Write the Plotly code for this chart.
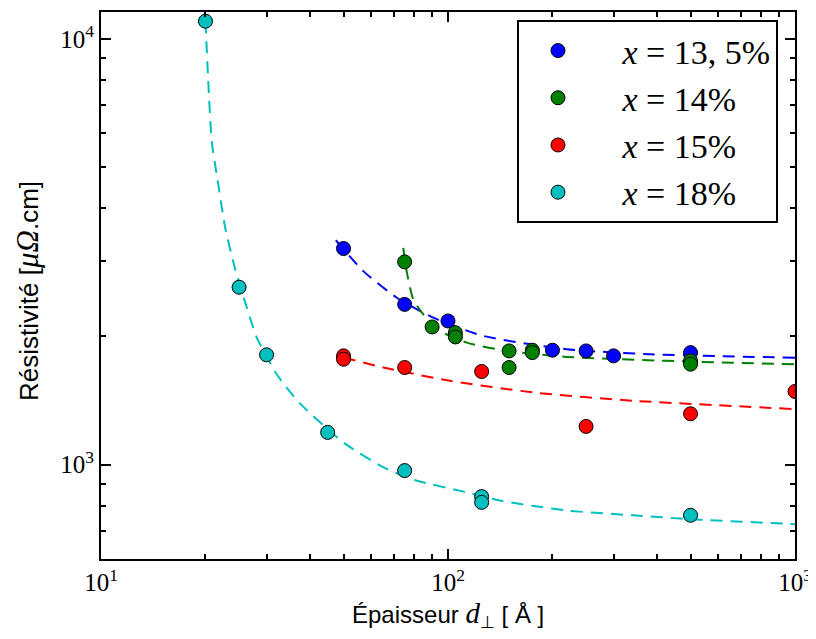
import plotly.graph_objects as go
import math

# ---------------- data ----------------
# measured points: thickness d (Å) and resistivity (µΩ.cm)
x18 = [20, 25, 30, 45, 75, 125, 125, 500]
y18 = [11000, 2610, 1810, 1190, 968, 841, 815, 760]

x135 = [50, 75, 100, 200, 250, 300, 500]
y135 = [3217, 2378, 2174, 1856, 1849, 1800, 1832]

x14 = [75, 90, 105, 105, 150, 150, 175, 175, 500, 500]
y14 = [2993, 2105, 2040, 1994, 1849, 1690, 1856, 1832, 1752, 1721]

x15 = [50, 50, 75, 125, 250, 500, 1000]
y15 = [1800, 1768, 1690, 1654, 1229, 1316, 1485]

# dashed fit curves
fx18 = [20.0, 20.4, 20.85, 21.55, 22.8, 24.3, 26.3, 28.1, 32.1, 37.5, 50.5, 65, 81, 113, 141, 220, 341, 532, 946, 1000]
fy18 = [11000, 7790, 5740, 4800, 3600, 2900, 2340, 1990, 1630, 1390, 1120, 986, 917, 861, 823, 780, 760, 742, 726, 724]

fx135 = [47.5, 57, 71.2, 90.7, 126.4, 219.8, 382, 1000]
fy135 = [3364, 2847, 2465, 2213, 2005, 1866, 1816, 1782]

fx14 = [74.3, 76, 79.4, 84.9, 94.8, 113.2, 147.7, 219.8, 426.8, 1000]
fy14 = [3228, 2847, 2444, 2253, 2060, 1934, 1849, 1790, 1752, 1720]

fx15 = [50, 65.1, 101.3, 176.1, 342, 1000]
fy15 = [1785, 1690, 1573, 1477, 1412, 1350]

labels = ["<i>x</i> = 13, 5%", "<i>x</i> = 14%", "<i>x</i> = 15%", "<i>x</i> = 18%"]
colors = ["#0000ff", "#008000", "#ff0000", "#00bfbf"]

xtickvals = [10, 100, 1000]
xticktext = ["10<sup>1</sup>", "10<sup>2</sup>", "10<sup>3</sup>"]
ytickvals = [1000, 10000]
yticktext = ["10<sup>3</sup>", "10<sup>4</sup>"]

# ---------------- figure ----------------
fig = go.Figure()

curves = [(fx135, fy135), (fx14, fy14), (fx15, fy15), (fx18, fy18)]
points = [(x135, y135), (x14, y14), (x15, y15), (x18, y18)]

for (cx, cy), c in zip(curves, colors):
    fig.add_trace(go.Scatter(
        x=cx, y=cy, mode="lines", showlegend=False, hoverinfo="skip",
        line=dict(color=c, width=2, dash="12px,8px", shape="spline", smoothing=0.6),
    ))

pad = "\u00a0\u00a0\u00a0"
for i, ((px, py), c, lab) in enumerate(zip(points, colors, labels)):
    fig.add_trace(go.Scatter(
        x=px, y=py, mode="markers", name=pad + lab, legendgroup=f"g{i}",
        marker=dict(color=c, size=14, line=dict(color="black", width=1)),
    ))

minor_x = [m * 10 ** k for k in (1, 2) for m in range(2, 10)]
minor_y = [m * 10 ** k for k in (2, 3) for m in range(2, 10)]

serif = "Liberation Serif, DejaVu Serif, serif"
sans = "Liberation Sans, Arial, sans-serif"

axis_common = dict(
    type="log", showgrid=False, zeroline=False,
    showline=True, linecolor="black", linewidth=2, mirror="ticks",
    ticks="inside", ticklen=10, tickwidth=1.5, tickcolor="black",
    tickfont=dict(family=serif, size=25, color="black"),
    ticklabeloverflow="allow",
)

fig.update_xaxes(
    **axis_common, range=[1, 3], tickmode="array", tickvals=xtickvals, ticktext=xticktext,
    minor=dict(ticks="inside", ticklen=5, tickwidth=1.5, tickcolor="black", tickvals=minor_x),
)
fig.update_yaxes(
    **axis_common, range=[math.log10(600), 4.063], tickmode="array", tickvals=ytickvals, ticktext=yticktext,
    minor=dict(ticks="inside", ticklen=5, tickwidth=1.5, tickcolor="black", tickvals=minor_y),
)

math_span = '<span style="font-family:Liberation Serif;font-size:{}px"><i>{}</i></span>'

fig.update_layout(
    width=808, height=623,
    margin=dict(l=93, r=21, t=2, b=72),
    plot_bgcolor="white", paper_bgcolor="white",
    showlegend=True,
    legend=dict(
        x=0.9755, xanchor="right", y=(559 - 18) / 549, yanchor="top",
        bgcolor="white", bordercolor="black", borderwidth=2,
        font=dict(family=serif, size=34, color="black"),
        itemwidth=68, tracegroupgap=0,
    ),
    annotations=[
        dict(text="Épaisseur " + math_span.format(29, "d") + "<sub>⊥</sub> [ Å ]", xref="paper", yref="paper",
             x=0.5, y=(559 - 615) / 549, xanchor="center", yanchor="middle", showarrow=False,
             font=dict(family=sans, size=24, color="black")),
        dict(text="Résistivité [" + math_span.format(31, "μΩ") + ".cm]", xref="paper", yref="paper",
             x=(28 - 101) / 694, y=(559 - 290) / 549, xanchor="center", yanchor="middle",
             textangle=-90, showarrow=False,
             font=dict(family=sans, size=26, color="black")),
    ],
)

fig.write_html("out.html")
